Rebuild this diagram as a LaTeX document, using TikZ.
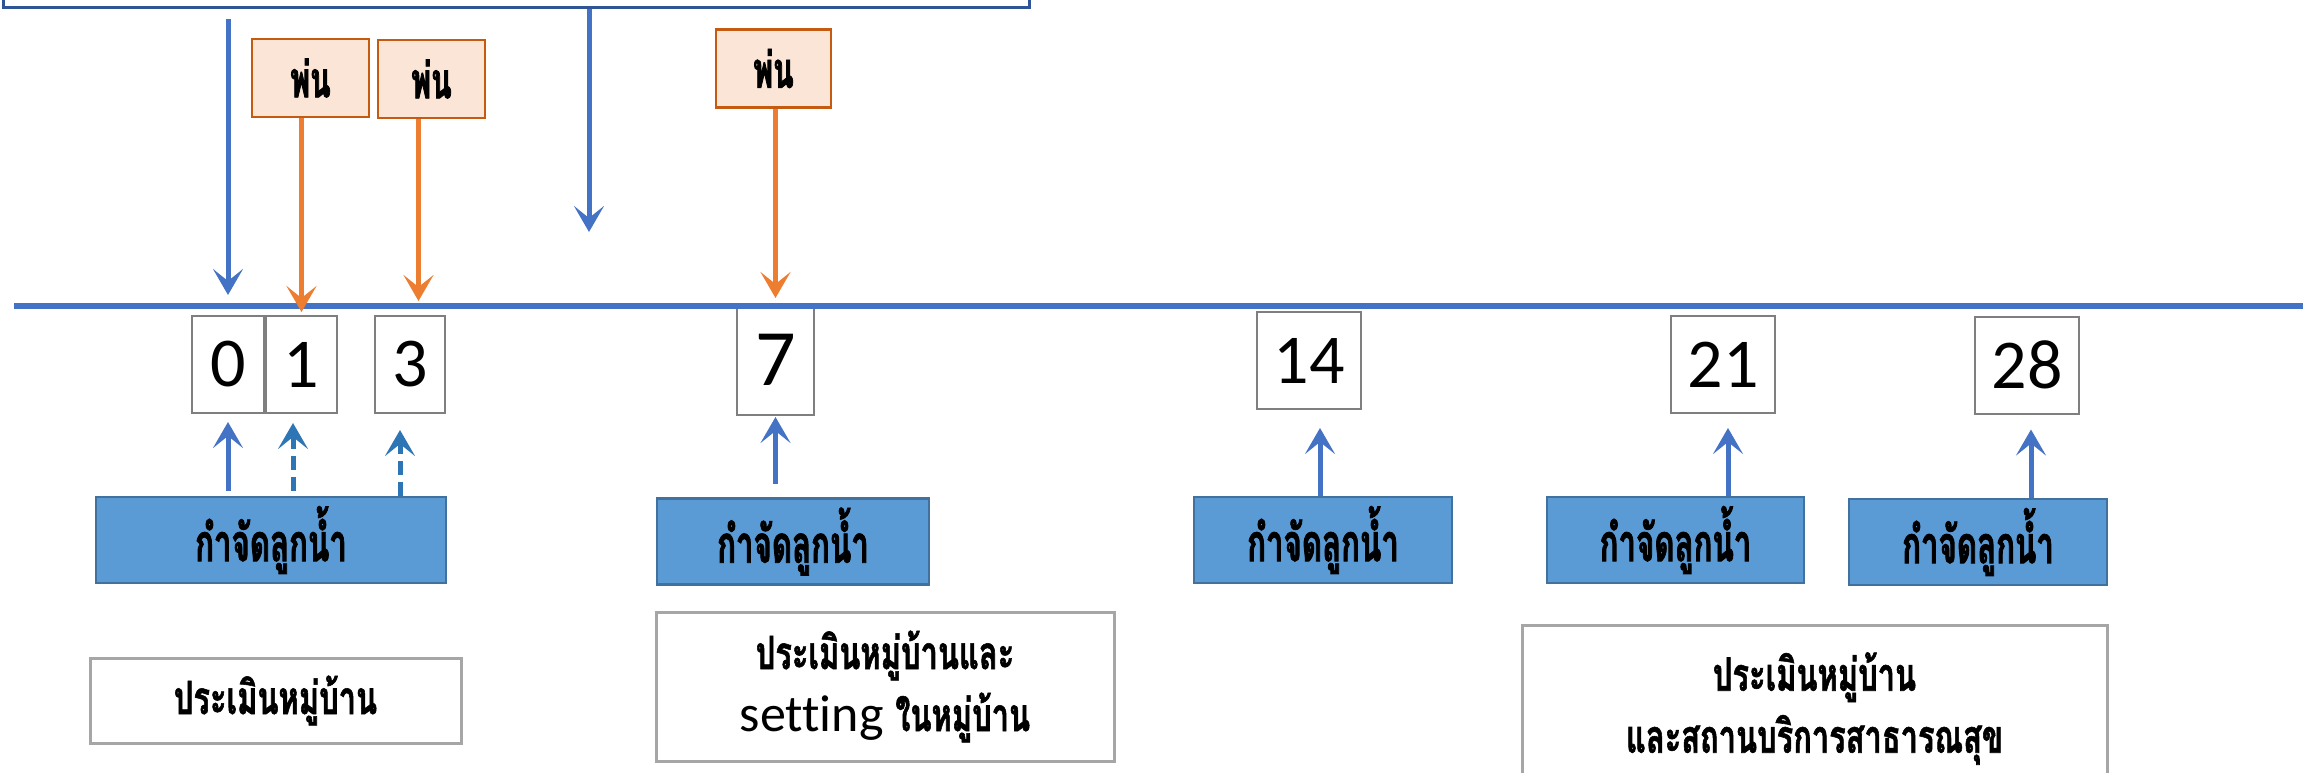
\documentclass[tikz,border=0pt]{standalone}
\usepackage{fontspec}
\setmainfont[Ligatures=NoCommon]{Carlito}
\newfontfamily\thaifont[Script=Thai,FakeStretch=0.67,FakeBold=1.2]{Loma}
\newfontfamily\thaicond[Script=Thai,FakeStretch=0.6,FakeBold=1.5]{Loma}
\usetikzlibrary{arrows.meta,positioning}
\definecolor{lineblue}   {RGB}{68 ,114,196}
\definecolor{dashblue}   {RGB}{46 ,117,182}
\definecolor{larvafill}  {RGB}{91 ,155,213}
\definecolor{larvaedge}  {RGB}{65 ,113,156}
\definecolor{sprayfill}  {RGB}{251,229,214}
\definecolor{sprayedge}  {RGB}{197,90 ,17 }
\definecolor{sprayline}  {RGB}{237,125,49 }
\definecolor{daygray}    {RGB}{127,127,127}
\definecolor{evalgray}   {RGB}{166,166,166}
\definecolor{planblue}   {RGB}{47 ,85 ,151}

\begin{document}
\begin{tikzpicture}[
  x=0.5pt, y=-0.5pt,
  every node/.style={inner sep=0pt, align=center},
  planbox/.style={draw=planblue, fill=white, line width=1.5pt},
  spraybox/.style={draw=sprayedge, fill=sprayfill, line width=1.3pt, minimum height=39pt, font=\thaicond\bfseries\fontsize{25}{28}\selectfont},
  daybox/.style={draw=daygray, fill=white, line width=1pt, minimum height=48.5pt, font=\fontsize{35}{38}\selectfont},
  larvabox/.style={draw=larvaedge, fill=larvafill, line width=1.3pt, minimum height=43pt, font=\thaicond\bfseries\fontsize{26}{30}\selectfont},
  evalbox/.style={draw=evalgray, fill=white, line width=1.5pt, font=\thaifont\bfseries\fontsize{23}{31}\selectfont},
  arrow/.style={-{Stealth[length=13pt,width=15pt,inset=6pt]}, line width=2.5pt, lineblue},
  sprayarrow/.style={arrow, sprayline},
  maybearrow/.style={arrow, dashblue, dash pattern=on 7pt off 3.5pt},
  timeline/.style={line width=3pt, lineblue}
]
  \useasboundingbox (0,0) rectangle (2303,772);

  % Nodes
  \node (plan) [planbox, anchor=south west, minimum width=513pt, minimum height=60pt] at (2,9) {};
  \node (spray1) [spraybox, minimum width=58.5pt] at (310.5,78) {พ่น};
  \node (spray2) [spraybox, minimum width=53.5pt] at (431.5,79) {พ่น};
  \node (spray3) [spraybox, minimum width=57.5pt] at (773.5,68.5) {พ่น};

  \node (d0)  [daybox, minimum width=36pt]   at (228,364.5)  {0};
  \node (d1)  [daybox, minimum width=35.5pt] at (301.5,364.5) {1};
  \node (d3)  [daybox, minimum width=35pt]   at (410,364.5)  {3};
  \node (d7)  [daybox, minimum width=38.5pt, minimum height=55.5pt, font=\fontsize{40}{42}\selectfont] at (775.5,359.5) {7};
  \node (d14) [daybox, minimum width=52pt]   at (1309,360.5) {14};
  \node (d21) [daybox, minimum width=52pt]   at (1723,364.5) {21};
  \node (d28) [daybox, minimum width=52pt]   at (2027,365)   {28};

  \node (kill0)  [larvabox, minimum width=175pt]   at (271,540)    {กำจัดลูกน้ำ};
  \node (kill7)  [larvabox, minimum width=136pt]   at (793,541.5)  {กำจัดลูกน้ำ};
  \node (kill14) [larvabox, minimum width=129pt]   at (1323,540)   {กำจัดลูกน้ำ};
  \node (kill21) [larvabox, minimum width=128.5pt] at (1675.5,540) {กำจัดลูกน้ำ};
  \node (kill28) [larvabox, minimum width=129pt]   at (1978,542)   {กำจัดลูกน้ำ};

  \node (evalA) [evalbox, minimum width=185.5pt, minimum height=42.5pt] at (275.5,700.5) {ประเมินหมู่บ้าน};
  \node (evalB) [evalbox, minimum width=229pt, minimum height=74.5pt] at (885,686.5)
    {ประเมินหมู่บ้านและ\\{\normalfont\fontsize{26}{31}\selectfont setting }ในหมู่บ้าน};
  \node (evalC) [evalbox, minimum width=292.5pt, minimum height=83.5pt] at (1814.5,708.5)
    {ประเมินหมู่บ้าน\\และสถานบริการสาธารณสุข};

  \coordinate (tlstart) at (14,306);
  \coordinate (tlend) at (2303,306);
  \coordinate (planend) at (589,232);
  \coordinate[xshift=-6.5pt] (spray2foot) at (spray2.south);
  \coordinate[xshift=-4.25pt] (d1foot) at (d1.south);
  \coordinate[xshift=-5pt] (d3foot) at (d3.south);
  \coordinate[xshift=5.5pt] (d14foot) at (d14.south);
  \coordinate[xshift=2.5pt] (d21foot) at (d21.south);
  \coordinate[xshift=2pt] (d28foot) at (d28.south);

  % Paths
  \draw [timeline] (tlstart) -- (tlend);
  \draw [arrow, shorten <=5pt, shorten >=5.5pt] (plan.south -| d0) -- (tlstart -| d0);
  \draw [arrow] (plan.south -| planend) -- (planend);

  \draw [sprayarrow, shorten >=1.5pt] (spray1.south -| d1) -- (d1.north);
  \draw [sprayarrow, shorten >=7pt] (spray2foot) -- (spray2foot |- d3.north);
  \draw [sprayarrow, shorten >=2.5pt] (spray3.south -| d7) -- (d7.north);

  \draw [arrow, shorten <=2.5pt, shorten >=4pt] (kill0.north -| d0) -- (d0.south);
  \draw [maybearrow, shorten <=2.5pt, shorten >=4.5pt] (kill0.north -| d1foot) -- (d1foot);
  \draw [maybearrow, shorten >=8pt] (kill0.north -| d3foot) -- (d3foot);
  \draw [arrow, shorten <=6.5pt, shorten >=0.5pt] (kill7.north -| d7) -- (d7.south);
  \draw [arrow, shorten >=9pt] (kill14.north -| d14foot) -- (d14foot);
  \draw [arrow, shorten >=7pt] (kill21.north -| d21foot) -- (d21foot);
  \draw [arrow, shorten >=7.5pt] (kill28.north -| d28foot) -- (d28foot);
\end{tikzpicture}
\end{document}
